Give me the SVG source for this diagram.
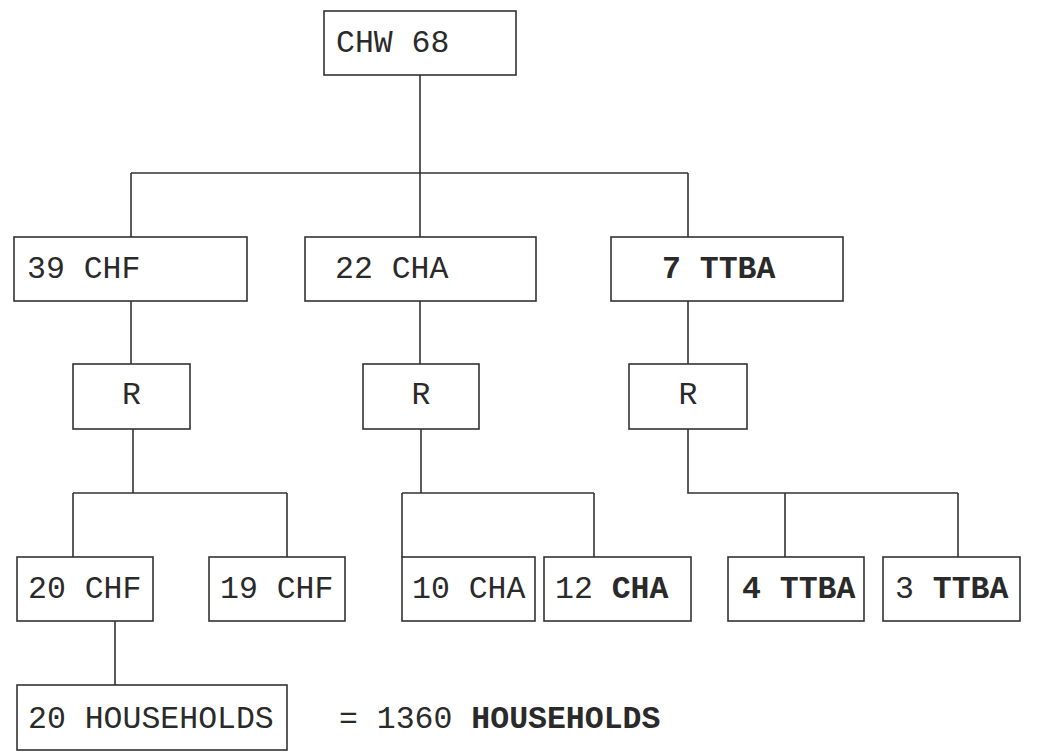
<svg xmlns="http://www.w3.org/2000/svg" width="1040" height="754" viewBox="0 0 1040 754">
<style>
.box{fill:#fff;stroke:#333;stroke-width:1.6}
.ln{fill:none;stroke:#333;stroke-width:1.6}
text{font-family:"Liberation Mono","Courier New",monospace;font-size:31.5px;fill:#2a2a2a}
.b{font-weight:bold}
</style>
<rect width="1040" height="754" fill="#fff"/>
<g id="connectors">
<path class="ln" d="M420 75V173M131 173H688M131 173V237M420 173V237M688 173V237"/>
<path class="ln" d="M131 301V364M420 301V364M688 301V364"/>
<path class="ln" d="M133 429V493M73 493H287M73 493V557M287 493V557"/>
<path class="ln" d="M421 429V493M402 493H594M402 493V557M594 493V557"/>
<path class="ln" d="M688 429V493H958M785 493V557M958 493V557"/>
<path class="ln" d="M115 621V685"/>
</g>
<g id="chw"><rect class="box" x="324" y="11" width="192" height="64"/><text x="336" y="52">CHW 68</text></g>
<g id="chf39"><rect class="box" x="14" y="237" width="233" height="64"/><text x="27" y="278">39 CHF</text></g>
<g id="cha22"><rect class="box" x="305" y="237" width="231" height="64"/><text x="335" y="278">22 CHA</text></g>
<g id="ttba7"><rect class="box" x="611" y="237" width="232" height="64"/><text x="662" y="278" class="b">7 TTBA</text></g>
<g id="r1"><rect class="box" x="73" y="364" width="117" height="65"/><text x="131.5" y="404" text-anchor="middle">R</text></g>
<g id="r2"><rect class="box" x="363" y="364" width="116" height="65"/><text x="421" y="404" text-anchor="middle">R</text></g>
<g id="r3"><rect class="box" x="629" y="364" width="118" height="65"/><text x="688" y="404" text-anchor="middle">R</text></g>
<g id="chf20"><rect class="box" x="17" y="557" width="136" height="64"/><text x="28" y="598">20 CHF</text></g>
<g id="chf19"><rect class="box" x="209" y="557" width="136" height="64"/><text x="220" y="598">19 CHF</text></g>
<g id="cha10"><rect class="box" x="402" y="557" width="133" height="64"/><text x="412" y="598">10 CHA</text></g>
<g id="cha12"><rect class="box" x="544" y="557" width="147" height="64"/><text x="555" y="598">12 <tspan class="b">CHA</tspan></text></g>
<g id="ttba4"><rect class="box" x="728" y="557" width="136" height="64"/><text x="742" y="598" class="b">4 TTBA</text></g>
<g id="ttba3"><rect class="box" x="883" y="557" width="137" height="64"/><text x="895" y="598">3 <tspan class="b">TTBA</tspan></text></g>
<g id="hh20"><rect class="box" x="17" y="685" width="270" height="65"/><text x="28" y="728">20 HOUSEHOLDS</text></g>
<g id="total"><text x="339" y="728">= 1360 <tspan class="b">HOUSEHOLDS</tspan></text></g>
</svg>
